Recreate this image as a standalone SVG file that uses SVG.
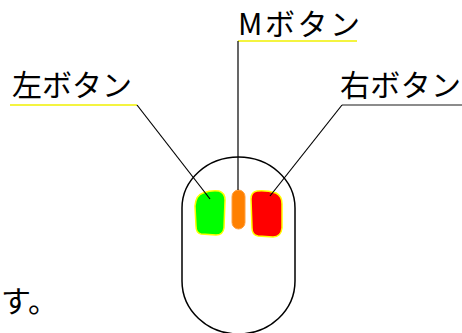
<svg xmlns="http://www.w3.org/2000/svg" width="462" height="333" viewBox="0 0 462 333">
  <style>
    .lbl { font-family: "Noto Sans CJK JP", "Noto Sans", sans-serif; font-size: 30px; fill: #000; }
    .lead { stroke: #000; stroke-width: 1.2; fill: none; }
    .btn { stroke: #ffff00; stroke-width: 1.5; }
  </style>
  <rect width="462" height="333" fill="#fff"/>

  <!-- mouse body -->
  <g id="mouse">
    <path d="M182,281 V208 A56.5,51 0 0 1 295,208 V281 A56.5,53 0 0 1 182,281 Z" fill="none" stroke="#000" stroke-width="1.5"/>
  </g>

  <!-- buttons -->
  <g id="left-button">
    <path class="btn" fill="#00ff00" d="M203,193 Q211,190 219,191 Q225,193 225,200 L224,228 Q223,235 216,235 L201,234 Q196,233 196,226 L195,206 Q196,195 203,193 Z"/>
  </g>
  <g id="middle-button">
    <rect x="232" y="190" width="13" height="39" rx="6.5" fill="#ff8000" stroke="#ffa040" stroke-width="1"/>
  </g>
  <g id="right-button">
    <path class="btn" fill="#ff0000" d="M257,191 Q266,190 276,193 Q282,196 282,204 L282,228 Q281,237 273,237 L258,236 Q252,235 252,228 L251,199 Q251,192 257,191 Z"/>
  </g>

  <!-- leader lines and underlines -->
  <g id="connectors">
    <line x1="10" y1="105" x2="137" y2="105" stroke="#f0f000" stroke-width="1.5"/>
    <line class="lead" x1="137" y1="105" x2="210" y2="199"/>
    <line x1="238" y1="41" x2="357" y2="41" stroke="#f0f000" stroke-width="1.5"/>
    <line class="lead" x1="238" y1="41" x2="238" y2="190"/>
    <line x1="342" y1="105" x2="462" y2="105" stroke="#666" stroke-width="1.5"/>
    <line class="lead" x1="342" y1="105" x2="270" y2="196"/>
  </g>

  <!-- labels -->
  <g id="label-left">
    <text class="lbl" x="12" y="96" textLength="120" lengthAdjust="spacing">左ボタン</text>
  </g>
  <g id="label-middle">
    <text class="lbl" x="238" y="35" textLength="122" lengthAdjust="spacing">Mボタン</text>
  </g>
  <g id="label-right">
    <text class="lbl" x="340" y="96" textLength="121" lengthAdjust="spacing">右ボタン</text>
  </g>
  <g id="caption">
    <text class="lbl" x="1" y="312">す。</text>
  </g>
</svg>
